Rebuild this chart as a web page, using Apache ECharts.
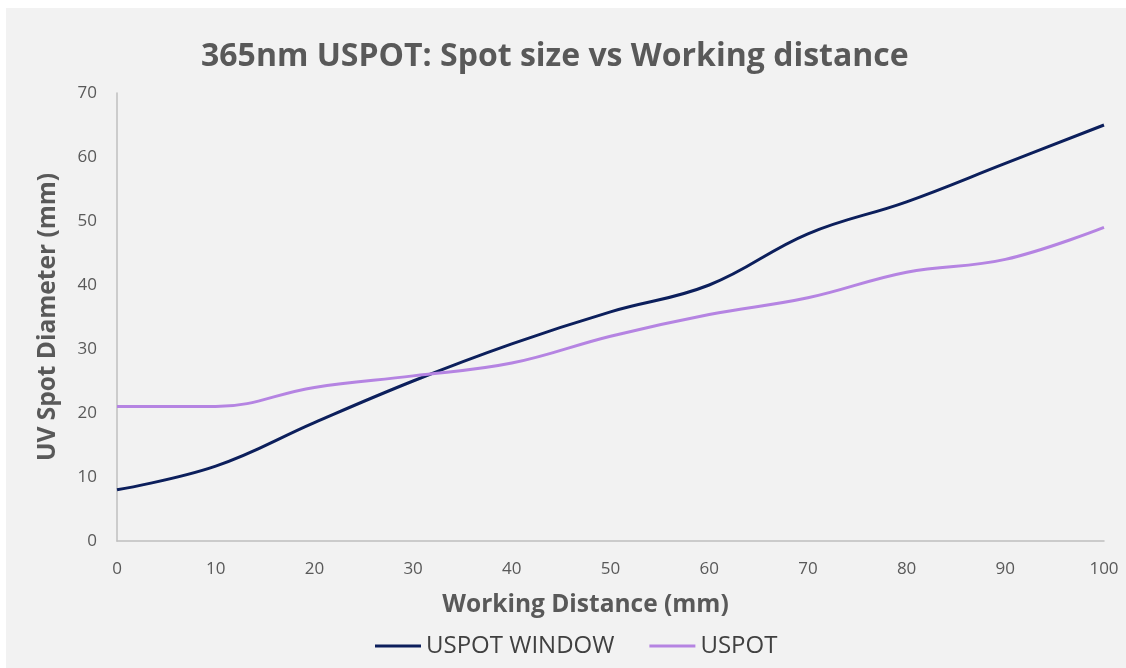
<!DOCTYPE html>
<html>
<head>
<meta charset="utf-8">
<script src="https://cdn.jsdelivr.net/npm/echarts@6/dist/echarts.min.js"></script>
<style>
html,body{margin:0;padding:0;background:#ffffff;width:1126px;height:668px;overflow:hidden;}
#chart{position:absolute;left:6px;top:8px;width:1120px;height:660px;background:#f2f2f2;}
</style>
</head>
<body>
<div id="chart"></div>
<script>
const distances = [0, 10, 20, 30, 40, 50, 60, 70, 80, 90, 100];
const uspotWindow = [8, 11.7, 18.5, 25, 30.8, 35.8, 40, 48, 53, 59, 65];
const uspot = [21, 21, 24, 25.8, 27.8, 32, 35.4, 38, 42, 44, 49];
const seriesNames = ['USPOT WINDOW', 'USPOT'];
const chartTitle = '365nm USPOT: Spot size vs Working distance';
const xTitle = 'Working Distance (mm)';
const yTitle = 'UV Spot Diameter (mm)';

const pairs = (xs, ys) => xs.map((x, i) => [x, ys[i]]);

const chart = echarts.init(document.getElementById('chart'), null, {renderer: 'canvas'});
const fontFam = '"Open Sans", Lato, sans-serif';
chart.setOption({
  backgroundColor: 'transparent',
  animation: false,
  title: {
    text: chartTitle,
    left: 195,
    top: 33,
    padding: 0,
    textStyle: {fontFamily: fontFam, fontSize: 32, fontWeight: 'bold', color: '#595959'}
  },
  legend: {
    data: seriesNames,
    left: 369,
    top: 626,
    padding: 0,
    icon: 'rect',
    itemWidth: 46,
    itemHeight: 3,
    itemGap: 35,
    textStyle: {fontFamily: fontFam, fontSize: 24, color: '#404040'}
  },
  grid: {left: 111, right: 22, top: 85, bottom: 127, containLabel: false},
  xAxis: {
    type: 'value',
    min: 0, max: 100, interval: 10,
    name: xTitle,
    nameLocation: 'middle',
    nameGap: 52,
    nameTextStyle: {fontFamily: fontFam, fontSize: 24.5, fontWeight: 'bold', color: '#595959', padding: [0, 50, 0, 0]},
    axisLine: {show: true, lineStyle: {color: '#bfbfbf', width: 1.5}},
    axisTick: {show: false},
    splitLine: {show: false},
    axisLabel: {fontFamily: fontFam, fontSize: 17, color: '#595959', margin: 20}
  },
  yAxis: {
    type: 'value',
    min: 0, max: 70, interval: 10,
    name: yTitle,
    nameLocation: 'middle',
    nameGap: 56,
    nameTextStyle: {fontFamily: fontFam, fontSize: 24.5, fontWeight: 'bold', color: '#595959'},
    axisLine: {show: true, lineStyle: {color: '#bfbfbf', width: 1.5}},
    axisTick: {show: false},
    splitLine: {show: false},
    axisLabel: {fontFamily: fontFam, fontSize: 17, color: '#595959', margin: 20}
  },
  series: [
    {
      name: seriesNames[0],
      type: 'line',
      data: pairs(distances, uspotWindow),
      smooth: 0.4,
      symbol: 'none',
      itemStyle: {color: '#0c1f5c'},
      lineStyle: {color: '#0c1f5c', width: 3}
    },
    {
      name: seriesNames[1],
      type: 'line',
      data: pairs(distances, uspot),
      smooth: 0.4,
      symbol: 'none',
      itemStyle: {color: '#b584e2'},
      lineStyle: {color: '#b584e2', width: 3}
    }
  ]
});
</script>
</body>
</html>
